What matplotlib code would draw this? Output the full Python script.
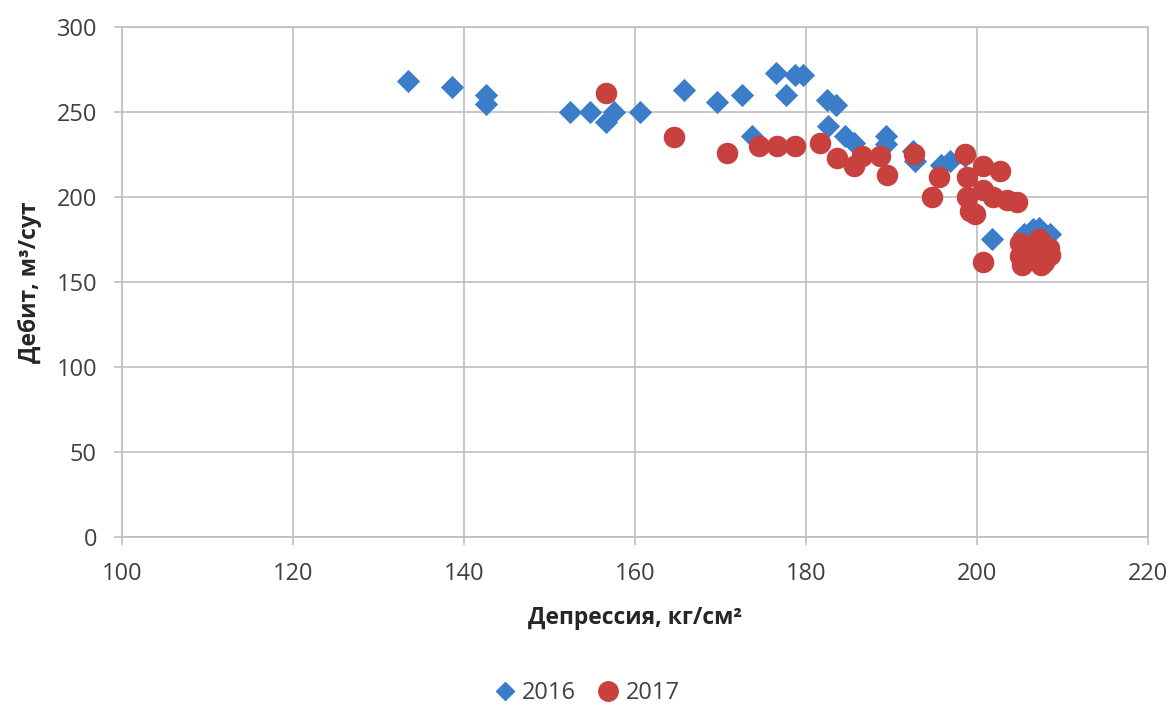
import matplotlib
matplotlib.use('Agg')
import matplotlib.pyplot as plt
from matplotlib.lines import Line2D

# 2016 measurements (diamonds)
x_2016 = [133.5, 138.6, 142.6, 142.6, 152.4, 154.7, 156.6, 157.5, 160.6, 165.7,
          169.6, 172.5, 173.7, 176.5, 177.7, 178.7, 179.6, 182.5, 183.5, 182.6,
          184.6, 185.6, 189.3, 189.3, 192.5, 192.7, 195.8, 196.8, 198.6, 201.8,
          205.5, 206.5, 207.3, 208.5, 206.0, 207.8]
y_2016 = [268, 265, 260, 255, 250, 250, 244, 250, 250, 263,
          256, 260, 236, 273, 260, 272, 272, 257, 254, 242,
          236, 232, 236, 231, 227, 221, 219, 221, 224, 175,
          178, 181, 182, 178, 175, 172]

# 2017 measurements (circles)
x_2017 = [156.6, 164.6, 170.7, 174.5, 176.6, 178.7, 181.6, 183.6, 185.6, 186.5,
          188.6, 189.5, 192.6, 194.7, 195.6, 198.6, 198.8, 200.7, 202.7, 198.8,
          199.2, 199.8, 200.7, 201.9, 203.5, 204.7, 200.7,
          205.0, 206.0, 207.0, 208.0, 208.5, 205.0, 206.2, 207.8, 207.2, 205.5,
          208.4, 206.8, 205.3, 207.5]
y_2017 = [261, 235, 226, 230, 230, 230, 232, 223, 218, 224,
          224, 213, 225, 200, 212, 225, 212, 218, 215, 200,
          192, 190, 204, 200, 198, 197, 162,
          173, 170, 168, 170, 166, 165, 163, 162, 175, 168,
          170, 165, 160, 160]

x_ticks = [100, 120, 140, 160, 180, 200, 220]
y_ticks = [0, 50, 100, 150, 200, 250, 300]

plt.rcParams['font.family'] = ['Open Sans', 'DejaVu Sans']

blue = '#3b7dc8'
red = '#c8413e'
grid_col = '#bfbfbf'

fig = plt.figure(figsize=(11.74, 7.07), dpi=100)
ax = fig.add_axes([0.1039, 0.2405, 0.874, 0.7213])

ax.scatter(x_2016, y_2016, marker='D', s=140, color=blue, linewidths=0, zorder=3)
ax.scatter(x_2017, y_2017, marker='o', s=240, color=red, linewidths=0, zorder=4)

ax.set_xlim(100, 220)
ax.set_ylim(0, 300)
ax.set_xticks(x_ticks)
ax.set_yticks(y_ticks)
ax.grid(True, color=grid_col, linewidth=1.2, zorder=0)
for sp in ax.spines.values():
    sp.set_color(grid_col)
    sp.set_linewidth(1.2)
ax.tick_params(colors=grid_col, labelcolor='#404040', labelsize=17, length=6, width=1.2)
ax.tick_params(axis='x', pad=12)
ax.tick_params(axis='y', pad=12)

ax.set_xlabel('Депрессия, кг/см²', fontsize=16.5, fontweight='bold', color='#262626')
ax.set_ylabel('Дебит, м³/сут', fontsize=16.5, fontweight='bold', color='#262626')
ax.xaxis.set_label_coords(0.5, -0.135)
ax.yaxis.set_label_coords(-0.078, 0.5)

handles = [
    Line2D([], [], marker='D', linestyle='none', color=blue, markersize=9, label='2016'),
    Line2D([], [], marker='o', linestyle='none', color=red, markersize=14, label='2017'),
]
fig.legend(handles=handles, loc='center', bbox_to_anchor=(0.5, 0.02), ncol=2,
           frameon=False, fontsize=17, handlelength=0.9, handletextpad=0.3,
           columnspacing=0.9, labelcolor='#404040')

fig.savefig('out.png', dpi=100)
